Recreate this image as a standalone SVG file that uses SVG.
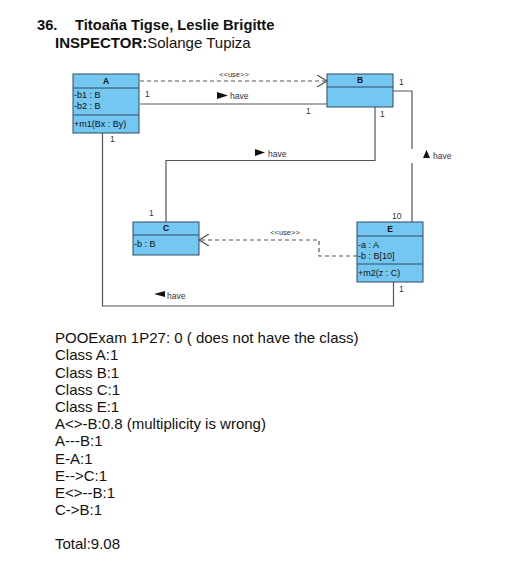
<svg xmlns="http://www.w3.org/2000/svg" width="528" height="565" viewBox="0 0 528 565">
<style>
.bg{fill:#ffffff}
.box{fill:#73C7F0;stroke:#2E4A62;stroke-width:1}
.sep{stroke:#2E4A62;stroke-width:1}
.nm{font-family:"Liberation Sans",Arial,sans-serif;font-size:8.5px;font-weight:bold;fill:#111;text-anchor:middle}
.at{font-family:"Liberation Sans",Arial,sans-serif;font-size:9px;fill:#111}
.lbl{font-family:"Liberation Sans",Arial,sans-serif;font-size:8.5px;fill:#333}
.st{font-family:"Liberation Sans",Arial,sans-serif;font-size:7.5px;fill:#333;text-anchor:middle}
.ln{fill:none;stroke:#555;stroke-width:1.2}
.dl{fill:none;stroke:#555;stroke-width:1.2;stroke-dasharray:4,3}
.tri{fill:#111}
.title{font-family:"Liberation Sans",Arial,sans-serif;font-size:14.7px;font-weight:bold;fill:#111}
.insp{font-family:"Liberation Sans",Arial,sans-serif;font-size:15px;fill:#111}
.body{font-family:"Liberation Sans",Arial,sans-serif;font-size:15px;fill:#111}
</style>
<defs>
<marker id="open" viewBox="0 0 10 12" refX="10" refY="6" markerWidth="10" markerHeight="12" markerUnits="userSpaceOnUse" orient="auto">
<path d="M0,0 L10,6 L0,12" fill="none" stroke="#555" stroke-width="1.2"/>
</marker>
</defs>
<rect class="bg" x="0" y="0" width="528" height="565"/>

<g id="header">
<text class="title" y="30"><tspan x="37">36.</tspan><tspan x="75">Titoaña Tigse, Leslie Brigitte</tspan></text>
<text class="insp" x="55" y="48"><tspan font-weight="bold">INSPECTOR:</tspan>Solange Tupiza</text>
</g>

<g id="connectors">
<!-- A -> B use -->
<line class="dl" x1="140" y1="81" x2="327" y2="81" marker-end="url(#open)"/>
<text class="st" x="234" y="77">&lt;&lt;use&gt;&gt;</text>
<!-- A - B have -->
<line class="ln" x1="140" y1="104" x2="327" y2="104"/>
<text class="lbl" x="145" y="97">1</text>
<text class="lbl" x="306" y="114">1</text>
<path class="tri" d="M217,92 L228,95.5 L217,99 Z"/>
<text class="lbl" x="230" y="99">have</text>
<!-- B - E have -->
<polyline class="ln" points="393,91 412,91 412,149"/>
<line class="ln" x1="412" y1="163" x2="412" y2="222"/>
<text class="lbl" x="399" y="85">1</text>
<text class="lbl" x="392" y="219">10</text>
<path class="tri" d="M423,158 L426.5,150 L430,158 Z"/>
<text class="lbl" x="433" y="159">have</text>
<!-- B - C have -->
<polyline class="ln" points="375,107 375,160.5 166,160.5 166,222"/>
<text class="lbl" x="380" y="117">1</text>
<text class="lbl" x="149" y="216">1</text>
<path class="tri" d="M255,149 L265,152.5 L255,156 Z"/>
<text class="lbl" x="268" y="157">have</text>
<!-- E -> C use -->
<polyline class="dl" points="357,256 319,256 319,240 199,240" marker-end="url(#open)"/>
<text class="st" x="285" y="235">&lt;&lt;use&gt;&gt;</text>
<!-- E - A have -->
<polyline class="ln" points="393.5,282 393.5,306 102.5,306 102.5,133"/>
<text class="lbl" x="399" y="292">1</text>
<text class="lbl" x="110" y="142">1</text>
<path class="tri" d="M165,291 L154,294 L165,297 Z"/>
<text class="lbl" x="167" y="299">have</text>
</g>

<g id="A">
<rect class="box" x="73" y="74" width="66" height="59"/>
<line class="sep" x1="73" y1="88" x2="139" y2="88"/>
<line class="sep" x1="73" y1="115" x2="139" y2="115"/>
<text class="nm" x="106" y="84">A</text>
<text class="at" x="74" y="98">-b1 : B</text>
<text class="at" x="74" y="109">-b2 : B</text>
<text class="at" x="74" y="127">+m1(Bx : By)</text>
</g>

<g id="B">
<rect class="box" x="327" y="74" width="66" height="33"/>
<line class="sep" x1="327" y1="87" x2="393" y2="87"/>
<text class="nm" x="360" y="83">B</text>
</g>

<g id="C">
<rect class="box" x="133" y="222" width="66" height="33"/>
<line class="sep" x1="133" y1="235" x2="199" y2="235"/>
<text class="nm" x="166" y="231">C</text>
<text class="at" x="134" y="247">-b : B</text>
</g>

<g id="E">
<rect class="box" x="357" y="222" width="66" height="60"/>
<line class="sep" x1="357" y1="236" x2="423" y2="236"/>
<line class="sep" x1="357" y1="264" x2="423" y2="264"/>
<text class="nm" x="390" y="232">E</text>
<text class="at" x="358" y="248">-a : A</text>
<text class="at" x="358" y="259">-b : B[10]</text>
<text class="at" x="358" y="276">+m2(z : C)</text>
</g>

<g id="notes">
<text class="body" x="55" y="343">POOExam 1P27: 0 ( does not have the class)</text>
<text class="body" x="55" y="360">Class A:1</text>
<text class="body" x="55" y="377.5">Class B:1</text>
<text class="body" x="55" y="394.5">Class C:1</text>
<text class="body" x="55" y="412">Class E:1</text>
<text class="body" x="55" y="429">A&lt;&gt;-B:0.8 (multiplicity is wrong)</text>
<text class="body" x="55" y="446">A---B:1</text>
<text class="body" x="55" y="463.5">E-A:1</text>
<text class="body" x="55" y="480.5">E--&gt;C:1</text>
<text class="body" x="55" y="498">E&lt;&gt;--B:1</text>
<text class="body" x="55" y="515">C-&gt;B:1</text>
<text class="body" x="55" y="549">Total:9.08</text>
</g>
</svg>
